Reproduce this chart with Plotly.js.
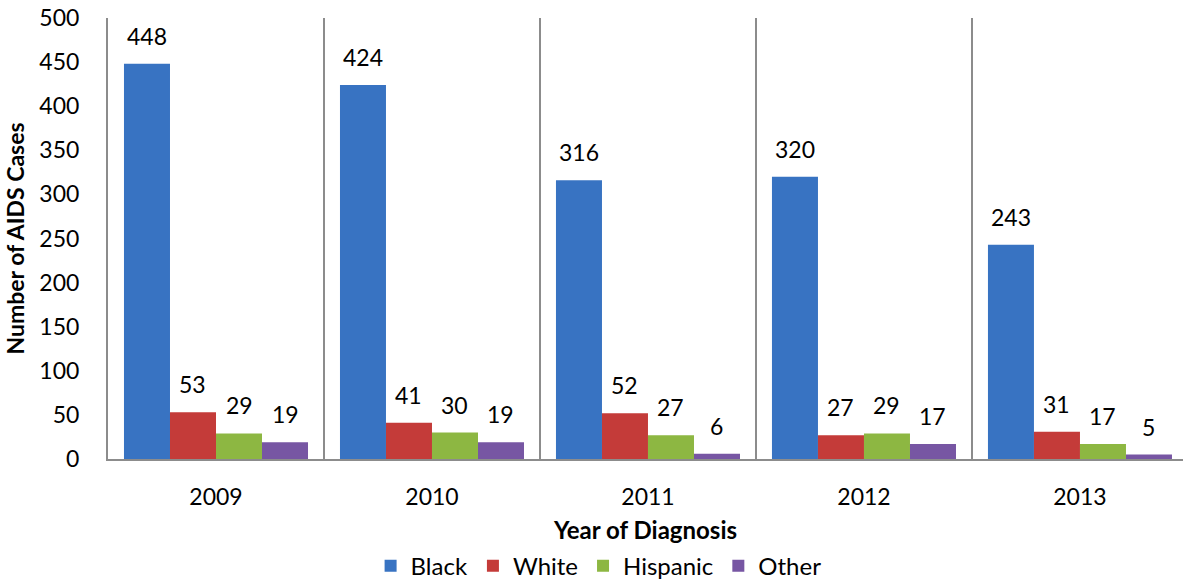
<!DOCTYPE html>
<html>
<head>
<meta charset="utf-8">
<script src="https://cdn.plot.ly/plotly-3.0.1.min.js"></script>
<style>html,body{margin:0;padding:0;background:#fff;}#chart{width:1183px;height:579px;}</style>
</head>
<body>
<div id="chart"></div>
<script>
const years = ['2009', '2010', '2011', '2012', '2013'];
const seriesNames = ['Black', 'White', 'Hispanic', 'Other'];
const black = [448, 424, 316, 320, 243];
const white = [53, 41, 52, 27, 31];
const hispanic = [29, 30, 27, 29, 17];
const other = [19, 19, 6, 17, 5];
const yTicks = [0, 50, 100, 150, 200, 250, 300, 350, 400, 450, 500];

const colors = ['#3873C2', '#C43B39', '#8DB742', '#7756A3'];
const allValues = [black, white, hispanic, other];
const FONT = 'Lato, "Open Sans", sans-serif';

const margin = {l: 108, r: 0, t: 18, b: 120};
const W = 1183, H = 579;
const xRange = [-0.5, 4.477];
const bargap = 0.148;
const catPx = (W - margin.l - margin.r) / (xRange[1] - xRange[0]);
const barPx = catPx * (1 - bargap) / seriesNames.length;

const traces = seriesNames.map((name, i) => ({
  type: 'bar',
  name: name,
  x: years,
  y: allValues[i],
  marker: {color: colors[i], line: {width: 0}},
  hoverinfo: 'x+y+name'
}));

const annotations = [];
seriesNames.forEach((name, i) => {
  const shift = (i - (seriesNames.length - 1) / 2) * barPx;
  years.forEach((yr, j) => {
    annotations.push({
      x: j, y: allValues[i][j], xref: 'x', yref: 'y',
      text: String(allValues[i][j]),
      showarrow: false, xshift: shift, yshift: 12,
      yanchor: 'bottom', xanchor: 'center',
      font: {family: FONT, size: 23, color: '#000'}
    });
  });
});

const layout = {
  width: W, height: H,
  margin: margin,
  paper_bgcolor: '#fff', plot_bgcolor: '#fff',
  barmode: 'group', bargap: bargap, bargroupgap: 0,
  font: {family: FONT, size: 23, color: '#000'},
  showlegend: true,
  legend: {
    orientation: 'h', xref: 'container', yref: 'container',
    x: 0.506, xanchor: 'center', y: 0.022, yanchor: 'middle',
    font: {family: FONT, size: 24, color: '#000'},
    tracegroupgap: 0
  },
  xaxis: {
    type: 'category', range: xRange,
    showline: true, linecolor: '#8c8c8c', linewidth: 2,
    showgrid: true, gridcolor: '#8c8c8c', gridwidth: 2,
    tickson: 'boundaries', ticks: '',
    ticklabelstandoff: 16,
    tickfont: {family: FONT, size: 23, color: '#000'},
    title: {text: '<b>Year of Diagnosis</b>', standoff: 22, font: {family: FONT, size: 24, color: '#000'}},
    zeroline: false, fixedrange: true
  },
  yaxis: {
    range: [0, 500], tickvals: yTicks, ticktext: yTicks.map(String),
    showline: true, linecolor: '#8c8c8c', linewidth: 2,
    showgrid: false, zeroline: false, ticks: '',
    tickfont: {family: FONT, size: 23, color: '#000'},
    ticklabelstandoff: 22,
    title: {text: '<b>Number of AIDS Cases</b>', standoff: 8, font: {family: FONT, size: 23, color: '#000'}},
    fixedrange: true
  },
  annotations: annotations
};

Plotly.newPlot('chart', traces, layout, {displayModeBar: false, staticPlot: true});
</script>
</body>
</html>
